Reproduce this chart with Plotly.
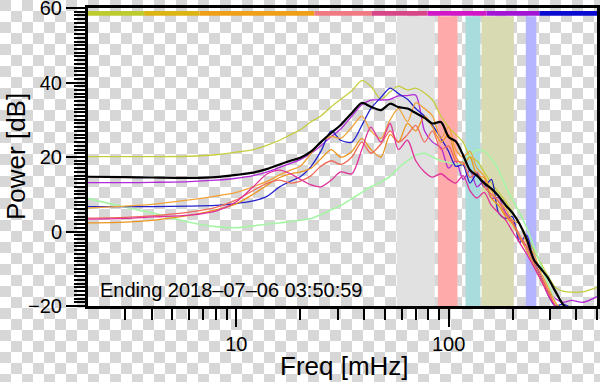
import base64
import plotly.graph_objects as go

# ---------------- data ----------------
freq_mhz = [2, 3, 4, 6, 8, 10, 12, 14, 16, 18, 20, 22.5, 25, 28, 31, 35, 39, 43, 48, 53,
            58, 64, 70, 77, 84, 92, 100, 108, 117, 126, 136, 147, 159, 172, 186, 200,
            216, 233, 252, 272, 294, 318, 345, 380, 430, 500]

series_names = ["yellow", "purple", "lightgreen", "blue", "orange1", "orange2", "salmon", "pink", "mean"]
series_colors = ["#c5cc3d", "#b22ad6", "#a6f5a6", "#2222cc", "#f2a33a", "#eb951e", "#f06a5a", "#e0309a", "#000000"]
series_widths = [1.3, 1.3, 1.6, 1.3, 1.3, 1.3, 1.3, 1.3, 2.2]

yellow = [20.1, 20.1, 20.1, 20.2, 20.6, 21.3, 22, 23.2, 24.5, 26, 27.3, 29.5, 31, 33.5, 35.5, 37.8, 40.5, 39, 35.5, 37.5,
          39, 38, 38.5, 37.2, 35.3, 31, 28, 26, 24, 20, 19, 16, 13, 10.5, 8, 5,
          2, -1.5, -5, -8.5, -12, -15, -16, -16.3, -16.2, -15]
purple = [13.1, 13.1, 13.2, 13.4, 13.8, 14.3, 15, 16, 17.2, 18.3, 19.3, 21, 23, 25.5, 27.5, 31, 34, 35.3, 35.3, 35.5,
          36.4, 36.5, 36.6, 27, 24, 22.5, 17, 19, 14, 16.5, 12, 13.5, 9, 9, 5, 3,
          -2, -4, -8, -12, -16, -18, -19, -18.5, -19, -17.5]
lightgreen = [8.9, 6.5, 5, 2.5, 1.3, 1, 1.5, 2, 2.3, 2.7, 3, 3.5, 4.5, 5.8, 7, 8.8, 10.5, 12, 13.3, 14.8,
              17, 19, 20.5, 21, 20, 19, 18.5, 18, 18.7, 20.5, 21.9, 21.5, 19.5, 16.5, 12, 8.5,
              5, 1, -4, -9, -14, -19, -22, -22, -22, -22]
blue = [6.7, 6.7, 6.7, 6.8, 7, 7.5, 8.2, 9.5, 12, 13.5, 14.7, 17.5, 21.5, 27, 24.5, 24, 28.5, 33, 36, 38.5,
        37, 35.5, 33, 31, 28.5, 25, 21.5, 17.5, 17.9, 13, 15.5, 12, 14, 5, 3.5, 4,
        -3, -1, -8, -12, -17, -20, -19.5, -20.5, -21, -21]
orange1 = [6.3, 6.8, 7.3, 8.5, 9.5, 10.5, 12, 13.5, 15.2, 16.5, 17.5, 21, 24, 25.5, 25, 28, 31, 27, 25, 30,
           33, 29.5, 34.5, 33, 31, 25, 28, 22, 20, 21.5, 17, 15, 11, 8, 6, 3,
           2, -3, -6, -11, -15, -19, -21, -22, -22, -22]
orange2 = [2.3, 2.5, 3, 4.3, 5.8, 7.5, 10, 12.5, 14.5, 15.5, 16, 17, 19.5, 22, 20, 21.5, 25, 22, 20, 26,
           24, 29, 27, 31, 28, 24, 26, 20, 18, 20, 15, 14.5, 9, 7, 4, 2,
           -1.5, -5, -9, -13, -16, -20, -22, -22, -22, -22]
salmon = [3.6, 3.8, 4.2, 5.2, 6.5, 8.5, 11, 13, 13.8, 13, 13.5, 15, 17.5, 19, 18, 20, 24, 21, 23.5, 27,
          24, 26, 28.5, 24, 27, 22, 23, 19, 18.5, 14.5, 16, 12, 10, 8, 4.5, 2.5,
          -1, -4, -8, -12, -16, -20, -22, -22, -22, -22]
pink = [3.3, 3.5, 3.9, 4.4, 5.5, 8, 12, 15.5, 16.5, 15.5, 14, 12.5, 12, 13.8, 16, 15.5, 22, 28, 24, 29,
        22, 24.5, 19, 16, 14.6, 15.5, 14, 13, 15, 11, 9, 10.5, 7, 5, 3, 0,
        -3, -6, -9.5, -13, -17, -20, -22, -22, -22, -22]
mean = [14.7, 14.6, 14.5, 14.4, 14.6, 15.2, 15.8, 16.8, 18, 19, 19.8, 21.5, 24, 26.5, 28.6, 31.8, 34.5, 33.5, 32.6, 34.3,
        33.4, 33, 31.8, 30.5, 29, 29.4, 25.4, 24.2, 20.5, 16.5, 15, 13, 11.5, 9.5, 7, 5,
        2, -2, -7.5, -10, -12.5, -16, -19.5, -22, -22, -22]
series_values = [yellow, purple, lightgreen, blue, orange1, orange2, salmon, pink, mean]

# frequency bands (mHz)
band_lo = [57, 89, 120, 143, 231]
band_hi = [86, 110, 141, 203, 259]
band_colors = ["#e1e1e1", "#ffaaaa", "#a9dcdc", "#d8dab2", "#b4b4ff"]

# time colour strip along the top (mHz edges)
strip_edges = [2, 3.68, 6.69, 23.3, 43.4, 79.6, 151, 268, 500]
strip_colors = ["#bccb30", "#dcb414", "#f0a018", "#f07a84", "#d8468a", "#d218c6", "#a214d6", "#0a0ad2"]

y_ticks = [-20, 0, 20, 40, 60]
x_ticks = [10, 100]
x_minor = [3, 4, 5, 6, 7, 8, 9, 20, 30, 40, 50, 60, 70, 80, 90, 200, 300, 400, 500]
ending_label = "Ending 2018\u201307\u201306 03:50:59"

# ---------------- figure ----------------
W, H = 600, 382
L, R, T, B = 88, 3, 8, 76
pw, ph = W - L - R, H - T - B

fig = go.Figure()

for name, vals, col, lw in zip(series_names, series_values, series_colors, series_widths):
    fig.add_trace(go.Scatter(x=freq_mhz, y=vals, mode="lines", name=name,
                             line=dict(color=col, width=lw, shape="spline", smoothing=0.8),
                             showlegend=False, hoverinfo="skip"))

shapes = []
for lo, hi, c in zip(band_lo, band_hi, band_colors):
    shapes.append(dict(type="rect", xref="x", yref="y", x0=lo, x1=hi, y0=-20, y1=57.8,
                       fillcolor=c, line=dict(width=0), layer="below"))
for i, c in enumerate(strip_colors):
    shapes.append(dict(type="rect", xref="x", yref="y", x0=strip_edges[i], x1=strip_edges[i + 1],
                       y0=57.9, y1=59.2, fillcolor=c, line=dict(width=0), layer="above"))

# transparent-background checkerboard (as in the reference picture)
sq = 11
svg = ('<svg xmlns="http://www.w3.org/2000/svg" width="%d" height="%d">'
       '<defs><pattern id="p" width="%d" height="%d" patternUnits="userSpaceOnUse">'
       '<rect width="%d" height="%d" fill="#ffffff"/>'
       '<rect width="%d" height="%d" fill="#d7d7d7"/>'
       '<rect x="%d" y="%d" width="%d" height="%d" fill="#d7d7d7"/></pattern></defs>'
       '<rect width="%d" height="%d" fill="url(#p)"/></svg>') % (
    W, H, 2 * sq, 2 * sq, 2 * sq, 2 * sq, sq, sq, sq, sq, sq, sq, W, H)
src = "data:image/svg+xml;base64," + base64.b64encode(svg.encode()).decode()

fig.update_layout(
    width=W, height=H,
    margin=dict(l=L, r=R, t=T, b=B, autoexpand=False),
    paper_bgcolor="rgba(0,0,0,0)", plot_bgcolor="rgba(0,0,0,0)",
    font=dict(family="Liberation Sans, Arial, Helvetica, sans-serif", color="black", size=20),
    shapes=shapes,
    images=[dict(source=src, xref="paper", yref="paper", x=-L / pw, y=1 + T / ph,
                 sizex=W / pw, sizey=H / ph, sizing="stretch", xanchor="left", yanchor="top",
                 layer="below")],
    annotations=[
        dict(text=ending_label, xref="paper", yref="paper", x=10 / pw, y=16 / ph,
             xanchor="left", yanchor="middle", showarrow=False, font=dict(size=20)),
        dict(text="Freq [mHz]", xref="paper", yref="paper", x=0.504, y=-(366 - 306) / ph,
             xanchor="center", yanchor="middle", showarrow=False, font=dict(size=26)),
        dict(text="Power [dB]", xref="paper", yref="paper", x=(16 - L) / pw, y=0.5,
             xanchor="center", yanchor="middle", showarrow=False, textangle=-90, font=dict(size=26)),
    ],
)

fig.update_xaxes(type="log", range=[0.30103, 2.69897], tickvals=x_ticks, ticktext=[str(v) for v in x_ticks],
                 ticks="outside", ticklen=18, tickwidth=2, tickcolor="black", automargin=False,
                 minor=dict(tickvals=x_minor, ticks="outside", ticklen=11, tickwidth=2, tickcolor="black"),
                 showgrid=False, zeroline=False, showline=True, linewidth=3, linecolor="black", mirror=True,
                 tickfont=dict(size=20), ticklabeloverflow="allow")
fig.update_yaxes(range=[-20, 60], tickvals=y_ticks,
                 ticks="outside", ticklen=19, tickwidth=2, tickcolor="black", automargin=False,
                 minor=dict(dtick=1, ticks="outside", ticklen=11, tickwidth=1.5, tickcolor="black"),
                 showgrid=False, zeroline=False, showline=True, linewidth=3, linecolor="black", mirror=True,
                 tickfont=dict(size=20), ticklabeloverflow="allow")

fig.write_html("out.html", config={"displayModeBar": False},
               post_script="document.body.style.margin='0';document.body.style.overflow='hidden';")
